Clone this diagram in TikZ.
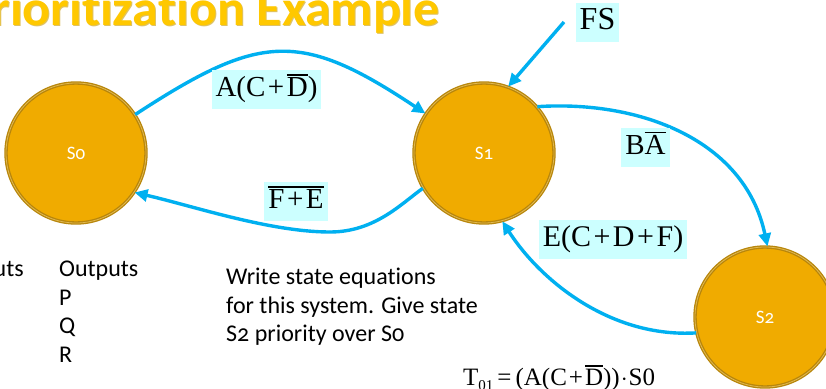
\documentclass[tikz,border=0pt]{standalone}
\usepackage{fontspec}
\setmainfont{Carlito}[Numbers=OldStyle, Ligatures=NoCommon]
\newfontfamily\tnr{Liberation Serif}
\usetikzlibrary{arrows.meta}
\definecolor{arrowblue}{HTML}{00B0F0}
\definecolor{stfill}{HTML}{F0AB00}
\definecolor{stline}{HTML}{B8860B}
\definecolor{stgap}{HTML}{E0B850}
\definecolor{lblbg}{HTML}{CCFFFF}
\definecolor{titlegold}{HTML}{FFC800}
\definecolor{titleshade}{HTML}{C89A00}
\newcommand\ovl[1]{\leavevmode\vbox{\hrule height 1.2pt\kern 2pt\hbox{#1}}}
\newcommand\pl{\hspace{2.5pt}+\hspace{2.5pt}}
\newcommand\titletext{\scalebox{1.04}[1]{Prioritization Example}}
\tikzset{
  state/.style={circle, fill=stfill, draw=stline, line width=1.3pt, double=stgap, double distance=0.8pt,
    minimum size=140pt, inner sep=0pt, text=white, font=\fontsize{19}{21}\selectfont},
  conn/.style={draw=arrowblue, line width=3.4pt, -{Triangle[length=13pt,width=12pt]}},
  plain/.style={draw=arrowblue, line width=3.4pt},
  lbl/.style={fill=lblbg, inner xsep=4pt, inner ysep=0pt, minimum height=39pt,
    font=\tnr\fontsize{29}{30}\selectfont, text height=20pt, text depth=6pt},
  body/.style={inner sep=0pt, font=\fontsize{24}{28}\selectfont, text=black},
  titlestyle/.style={anchor=base east, inner sep=0pt, font=\fontsize{50}{56}\selectfont\bfseries}
}
\begin{document}
\begin{tikzpicture}[x=1pt,y=1pt]
\clip (0,0) rectangle (826,-388);
\fill[white] (0,0) rectangle (826,-388);
% title
\node[titlestyle, text=titleshade, opacity=0.6] (titleshadow) at (441,-26) {\titletext};
\node[titlestyle, text=titlegold] (title) at (440,-25) {\titletext};
% states
\node[state] (S0) at (76,-153) {S0};
\node[state] (S1) at (484,-153) {S1};
\node[state] (S2) at (765,-317) {S2};
% connectors
\draw[conn] (S0.33) .. controls (260,-33) and (300,-30) .. (S1.146);
\coordinate (b1) at (330,-232);
\draw[plain] (S1.210) .. controls (402,-203) and (375,-232) .. (b1);
\draw[conn] (b1) .. controls (270,-232) and (193,-206) .. (S0.-34);
\coordinate (fsstart) at (564,-22);
\draw[conn] (fsstart) -- (S1.70);
\draw[conn] (S1.41) .. controls (640,-100) and (745,-140) .. (S2.88);
\draw[conn] (S2.193) .. controls (610,-338) and (540,-280) .. (S1.-75);
% labels
\node[lbl] (l1) at (266.5,-89.5) {A(C\pl\ovl{D})};
\node[lbl] (l2) at (296,-201.5) {\ovl{F\pl E}};
\node[lbl, font=\tnr\fontsize{32}{34}\selectfont] (l3) at (597.5,-22.5) {FS};
\node[lbl] (l4) at (645.5,-147.5) {B\ovl{A}};
\node[lbl, font=\tnr\fontsize{30}{32}\selectfont] (l5) at (613,-239.5) {E(C\pl D\pl F)};
% texts
\node[body, anchor=base east] (inp) at (24,-276) {Inputs};
\node[body, anchor=base west] (out0) at (59,-276) {Outputs};
\node[body, anchor=base west] (out1) at (59,-305) {P};
\node[body, anchor=base west] (out2) at (59,-333) {Q};
\node[body, anchor=base west] (out3) at (59,-362) {R};
\node[body, anchor=base west] (w1) at (226,-284) {Write state equations};
\node[body, anchor=base west] (w2) at (226,-313) {for this system. Give state};
\node[body, anchor=base west] (w3) at (226,-341) {S2 priority over S0};
\node[inner sep=0pt, anchor=base west, font=\tnr\fontsize{25}{27}\selectfont] (eq) at (463,-385)
  {T\raisebox{-5pt}{\fontsize{15}{15}\selectfont 01}\hspace{4pt}=\hspace{4pt}(A(C\hspace{2pt}+\hspace{2pt}\ovl{D}))\hspace{1pt}$\cdot$\hspace{1pt}S0};
\end{tikzpicture}
\end{document}
